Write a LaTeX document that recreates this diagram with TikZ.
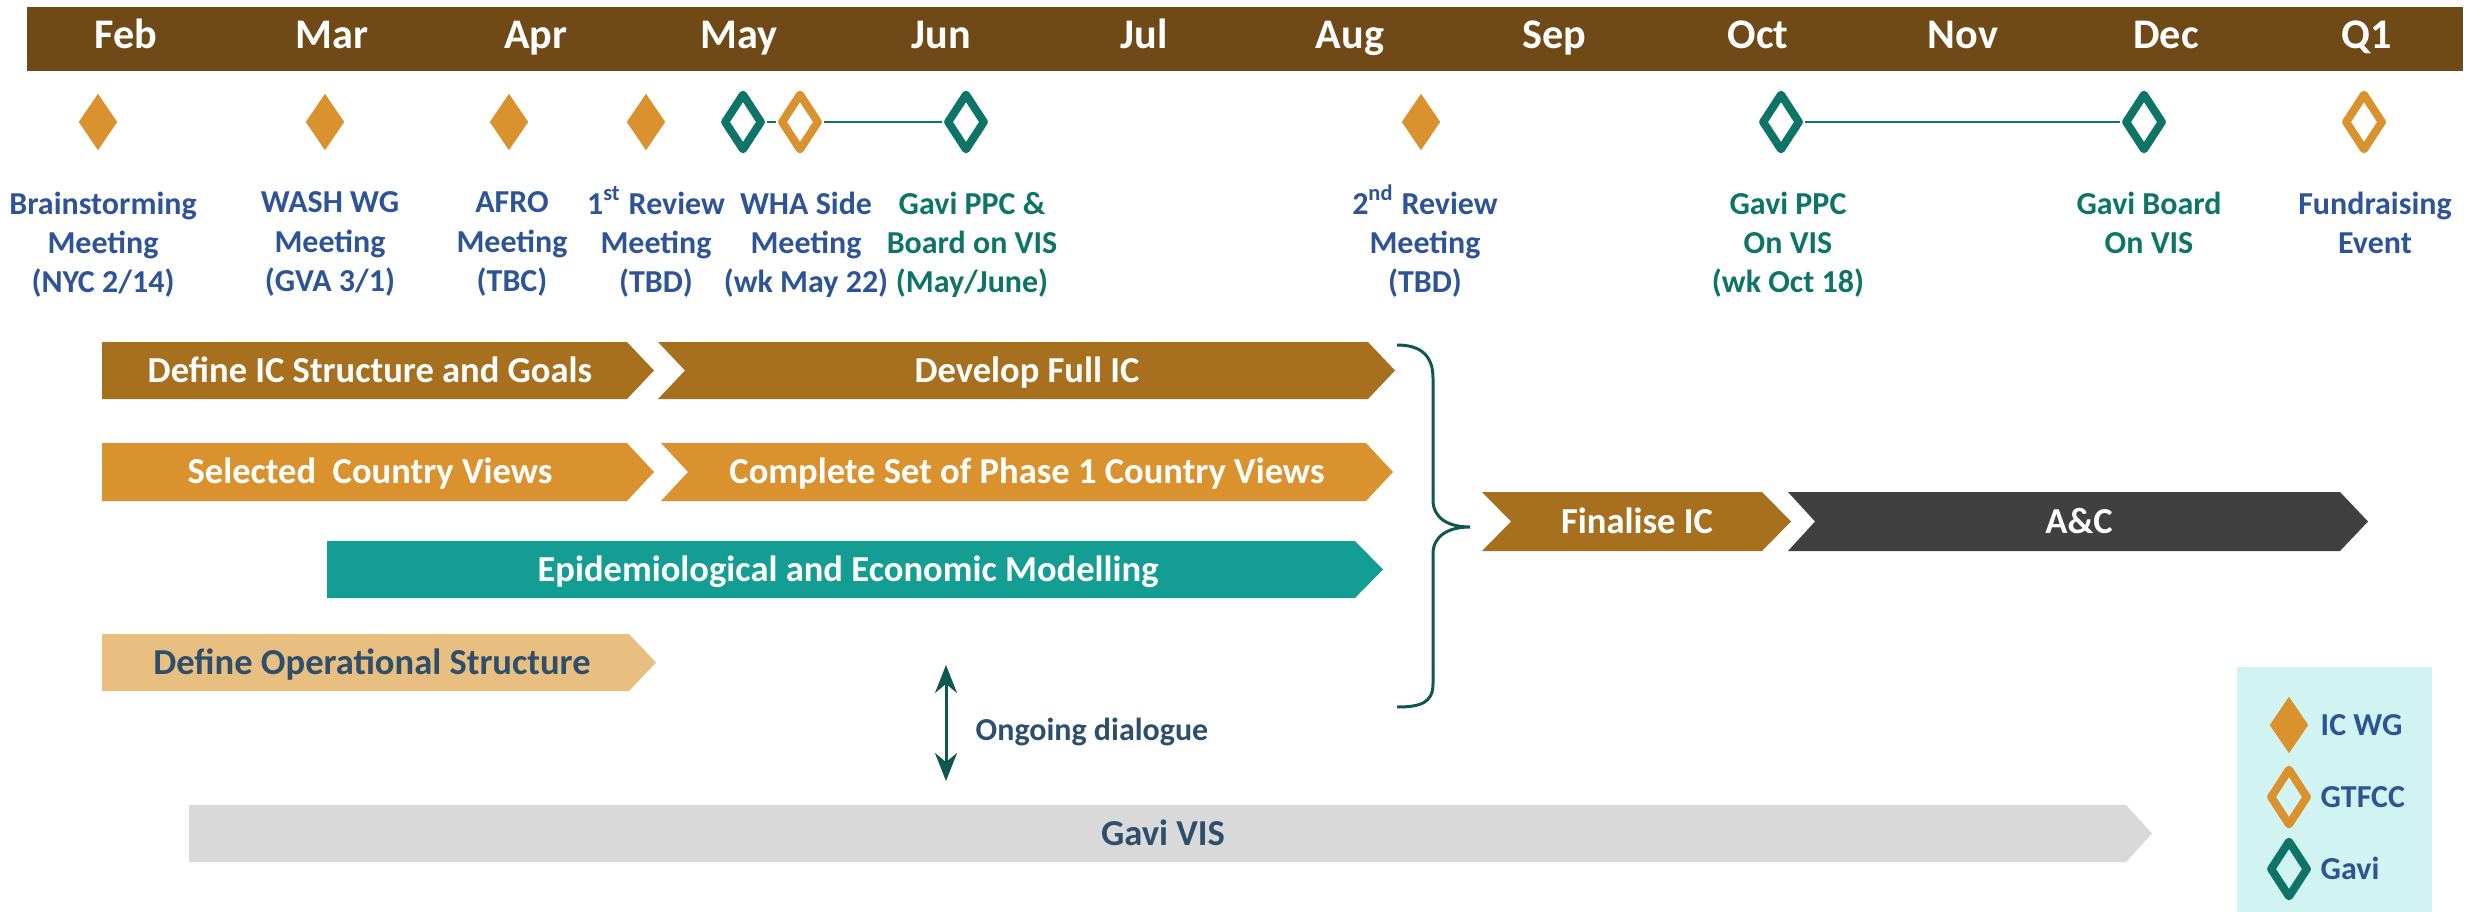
\documentclass[tikz,border=0pt]{standalone}
\usepackage{fontspec}
\setmainfont{Carlito}
\usetikzlibrary{arrows.meta,shapes.geometric}

\definecolor{hdrbrown}{RGB}{111,74,22}
\definecolor{icbrown}{RGB}{166,112,31}
\definecolor{icorange}{RGB}{217,146,45}
\definecolor{modteal}{RGB}{20,157,147}
\definecolor{opstan}{RGB}{232,191,128}
\definecolor{acgray}{RGB}{64,64,64}
\definecolor{visgray}{RGB}{217,217,217}
\definecolor{gavigreen}{RGB}{14,116,104}
\definecolor{evtblue}{RGB}{47,84,150}
\definecolor{txtslate}{RGB}{46,79,107}
\definecolor{bracegreen}{RGB}{16,86,82}
\definecolor{legendbg}{RGB}{209,243,241}

\tikzset{
  month/.style={anchor=base,text=white,font=\fontsize{12}{14}\selectfont\bfseries},
  evtlbl/.style={anchor=north,align=center,inner sep=0pt,font=\fontsize{9.1}{11.2}\selectfont\bfseries},
  chevtxt/.style={inner sep=0pt,text=white,text height=0.235cm,text depth=0pt,font=\fontsize{10.4}{12}\selectfont\bfseries},
  keytxt/.style={anchor=west,inner sep=0pt,text=evtblue,text height=0.206cm,text depth=0pt,font=\fontsize{9.1}{11}\selectfont\bfseries},
  icwg/.style={diamond,fill=icorange,inner sep=0pt,minimum width=0.39cm,minimum height=0.57cm},
  gtfcc/.style={diamond,draw=icorange,line width=2.3pt,line join=round,fill=white,inner sep=0pt,minimum width=0.39cm,minimum height=0.58cm},
  gavi/.style={gtfcc,draw=gavigreen},
  gavilink/.style={draw=gavigreen,line width=0.85pt},
}

\begin{document}
\begin{tikzpicture}[x=1cm,y=1cm]
\useasboundingbox (0,0) rectangle (24.76,-9.12);

% month header
\fill[hdrbrown] (0.27,-0.07) rectangle (24.63,-0.71);
\node[month] (mfeb) at (1.26,-0.48) {Feb};
\node[month] (mmar) at (3.32,-0.48) {Mar};
\node[month] (mapr) at (5.36,-0.48) {Apr};
\node[month] (mmay) at (7.39,-0.48) {May};
\node[month] (mjun) at (9.41,-0.48) {Jun};
\node[month] (mjul) at (11.44,-0.48) {Jul};
\node[month] (maug) at (13.50,-0.48) {Aug};
\node[month] (msep) at (15.54,-0.48) {Sep};
\node[month] (moct) at (17.58,-0.48) {Oct};
\node[month] (mnov) at (19.63,-0.48) {Nov};
\node[month] (mdec) at (21.66,-0.48) {Dec};
\node[month] (mq1) at (23.67,-0.48) {Q1};

% milestones
\node[icwg] (brain) at (0.98,-1.22) {};
\node[icwg] (wash) at (3.25,-1.22) {};
\node[icwg] (afro) at (5.09,-1.22) {};
\node[icwg] (rev1) at (6.46,-1.22) {};
\node[gavi] (gpbstart) at (7.43,-1.22) {};
\node[gtfcc] (wha) at (8.00,-1.22) {};
\node[gavi] (gpbend) at (9.66,-1.22) {};
\node[icwg] (rev2) at (14.21,-1.22) {};
\node[gavi] (gppc) at (17.81,-1.22) {};
\node[gavi] (gboard) at (21.44,-1.22) {};
\node[gtfcc] (fund) at (23.64,-1.22) {};

\draw[gavilink] (gpbstart.east) -- (wha.west);
\draw[gavilink] (wha.east) -- (gpbend.west);
\draw[gavilink] (gppc.east) -- (gboard.west);

\node[evtlbl,text=evtblue] (lbrain) at (1.03,-1.91) {Brainstorming\\Meeting\\(NYC 2/14)};
\node[evtlbl,text=evtblue] (lwash) at (3.30,-1.91) {WASH WG\\Meeting\\(GVA 3/1)};
\node[evtlbl,text=evtblue] (lafro) at (5.12,-1.91) {AFRO\\Meeting\\(TBC)};
\node[evtlbl,text=evtblue] (lrev1) at (6.56,-1.91) {1\smash{\textsuperscript{st}} Review\\Meeting\\(TBD)};
\node[evtlbl,text=evtblue] (lwha) at (8.06,-1.91) {WHA Side\\Meeting\\(wk May 22)};
\node[evtlbl,text=gavigreen] (lgpb) at (9.72,-1.91) {Gavi PPC \&\\Board on VIS\\(May/June)};
\node[evtlbl,text=evtblue] (lrev2) at (14.25,-1.91) {2\smash{\textsuperscript{nd}} Review\\Meeting\\(TBD)};
\node[evtlbl,text=gavigreen] (lgppc) at (17.88,-1.91) {Gavi PPC\\On VIS\\(wk Oct 18)};
\node[evtlbl,text=gavigreen] (lgboard) at (21.49,-1.91) {Gavi Board\\On VIS};
\node[evtlbl,text=evtblue] (lfund) at (23.75,-1.91) {Fundraising\\Event};

% work streams
\fill[icbrown] (1.02,-3.42) -- (6.27,-3.42) -- (6.54,-3.705) -- (6.27,-3.99) -- (1.02,-3.99) -- cycle;
\node[chevtxt] (icdef) at (3.70,-3.705) {Define IC Structure and Goals};
\fill[icbrown] (6.58,-3.42) -- (13.68,-3.42) -- (13.95,-3.705) -- (13.68,-3.99) -- (6.58,-3.99) -- (6.85,-3.705) -- cycle;
\node[chevtxt] (icdev) at (10.27,-3.705) {Develop Full IC};

\fill[icorange] (1.02,-4.43) -- (6.27,-4.43) -- (6.54,-4.72) -- (6.27,-5.01) -- (1.02,-5.01) -- cycle;
\node[chevtxt] (cvsel) at (3.70,-4.72) {Selected\ \ Country Views};
\fill[icorange] (6.61,-4.43) -- (13.66,-4.43) -- (13.93,-4.72) -- (13.66,-5.01) -- (6.61,-5.01) -- (6.88,-4.72) -- cycle;
\node[chevtxt] (cvall) at (10.27,-4.72) {Complete Set of Phase 1 Country Views};

\fill[modteal] (3.27,-5.41) -- (13.55,-5.41) -- (13.83,-5.695) -- (13.55,-5.98) -- (3.27,-5.98) -- cycle;
\node[chevtxt] (model) at (8.48,-5.695) {Epidemiological and Economic Modelling};

\fill[opstan] (1.02,-6.34) -- (6.29,-6.34) -- (6.56,-6.625) -- (6.29,-6.91) -- (1.02,-6.91) -- cycle;
\node[chevtxt,text=txtslate] (opstr) at (3.72,-6.625) {Define Operational Structure};

% brace into the final steps
\draw[bracegreen,line width=0.85pt] (13.97,-3.45) .. controls (14.20,-3.45) and (14.33,-3.55) .. (14.33,-3.78)
  -- (14.33,-5.00) .. controls (14.33,-5.18) and (14.48,-5.27) .. (14.70,-5.27)
  .. controls (14.48,-5.27) and (14.33,-5.36) .. (14.33,-5.54)
  -- (14.33,-6.84) .. controls (14.33,-7.03) and (14.20,-7.07) .. (13.97,-7.07);

\fill[icbrown] (14.82,-4.92) -- (17.62,-4.92) -- (17.91,-5.215) -- (17.62,-5.51) -- (14.82,-5.51) -- (15.11,-5.215) -- cycle;
\node[chevtxt] (icfin) at (16.37,-5.215) {Finalise IC};
\fill[acgray] (17.88,-4.92) -- (23.40,-4.92) -- (23.68,-5.215) -- (23.40,-5.51) -- (17.88,-5.51) -- (18.15,-5.215) -- cycle;
\node[chevtxt] (ac) at (20.79,-5.215) {A\&C};

% dialogue with Gavi
\coordinate (dlgtop) at (9.46,-6.65);
\coordinate (dlgbot) at (9.46,-7.81);
\draw[bracegreen,line width=0.85pt,{Stealth[length=0.28cm,width=0.22cm]}-{Stealth[length=0.28cm,width=0.22cm]}] (dlgtop) -- (dlgbot);
\node[keytxt,text=txtslate] (dlg) at (9.75,-7.30) {Ongoing dialogue};

\fill[visgray] (1.89,-8.05) -- (21.26,-8.05) -- (21.52,-8.335) -- (21.26,-8.62) -- (1.89,-8.62) -- cycle;
\node[chevtxt,text=txtslate] (vis) at (11.63,-8.335) {Gavi VIS};

% key
\fill[legendbg] (22.37,-6.67) rectangle (24.32,-9.12);
\node[icwg] (kicwg) at (22.89,-7.25) {};
\node[gtfcc,fill=legendbg] (kgtfcc) at (22.89,-7.97) {};
\node[gavi,fill=legendbg] (kgavi) at (22.89,-8.69) {};
\node[keytxt] (ticwg) at (23.20,-7.25) {IC WG};
\node[keytxt] (tgtfcc) at (23.20,-7.97) {GTFCC};
\node[keytxt] (tgavi) at (23.20,-8.69) {Gavi};

\end{tikzpicture}
\end{document}
